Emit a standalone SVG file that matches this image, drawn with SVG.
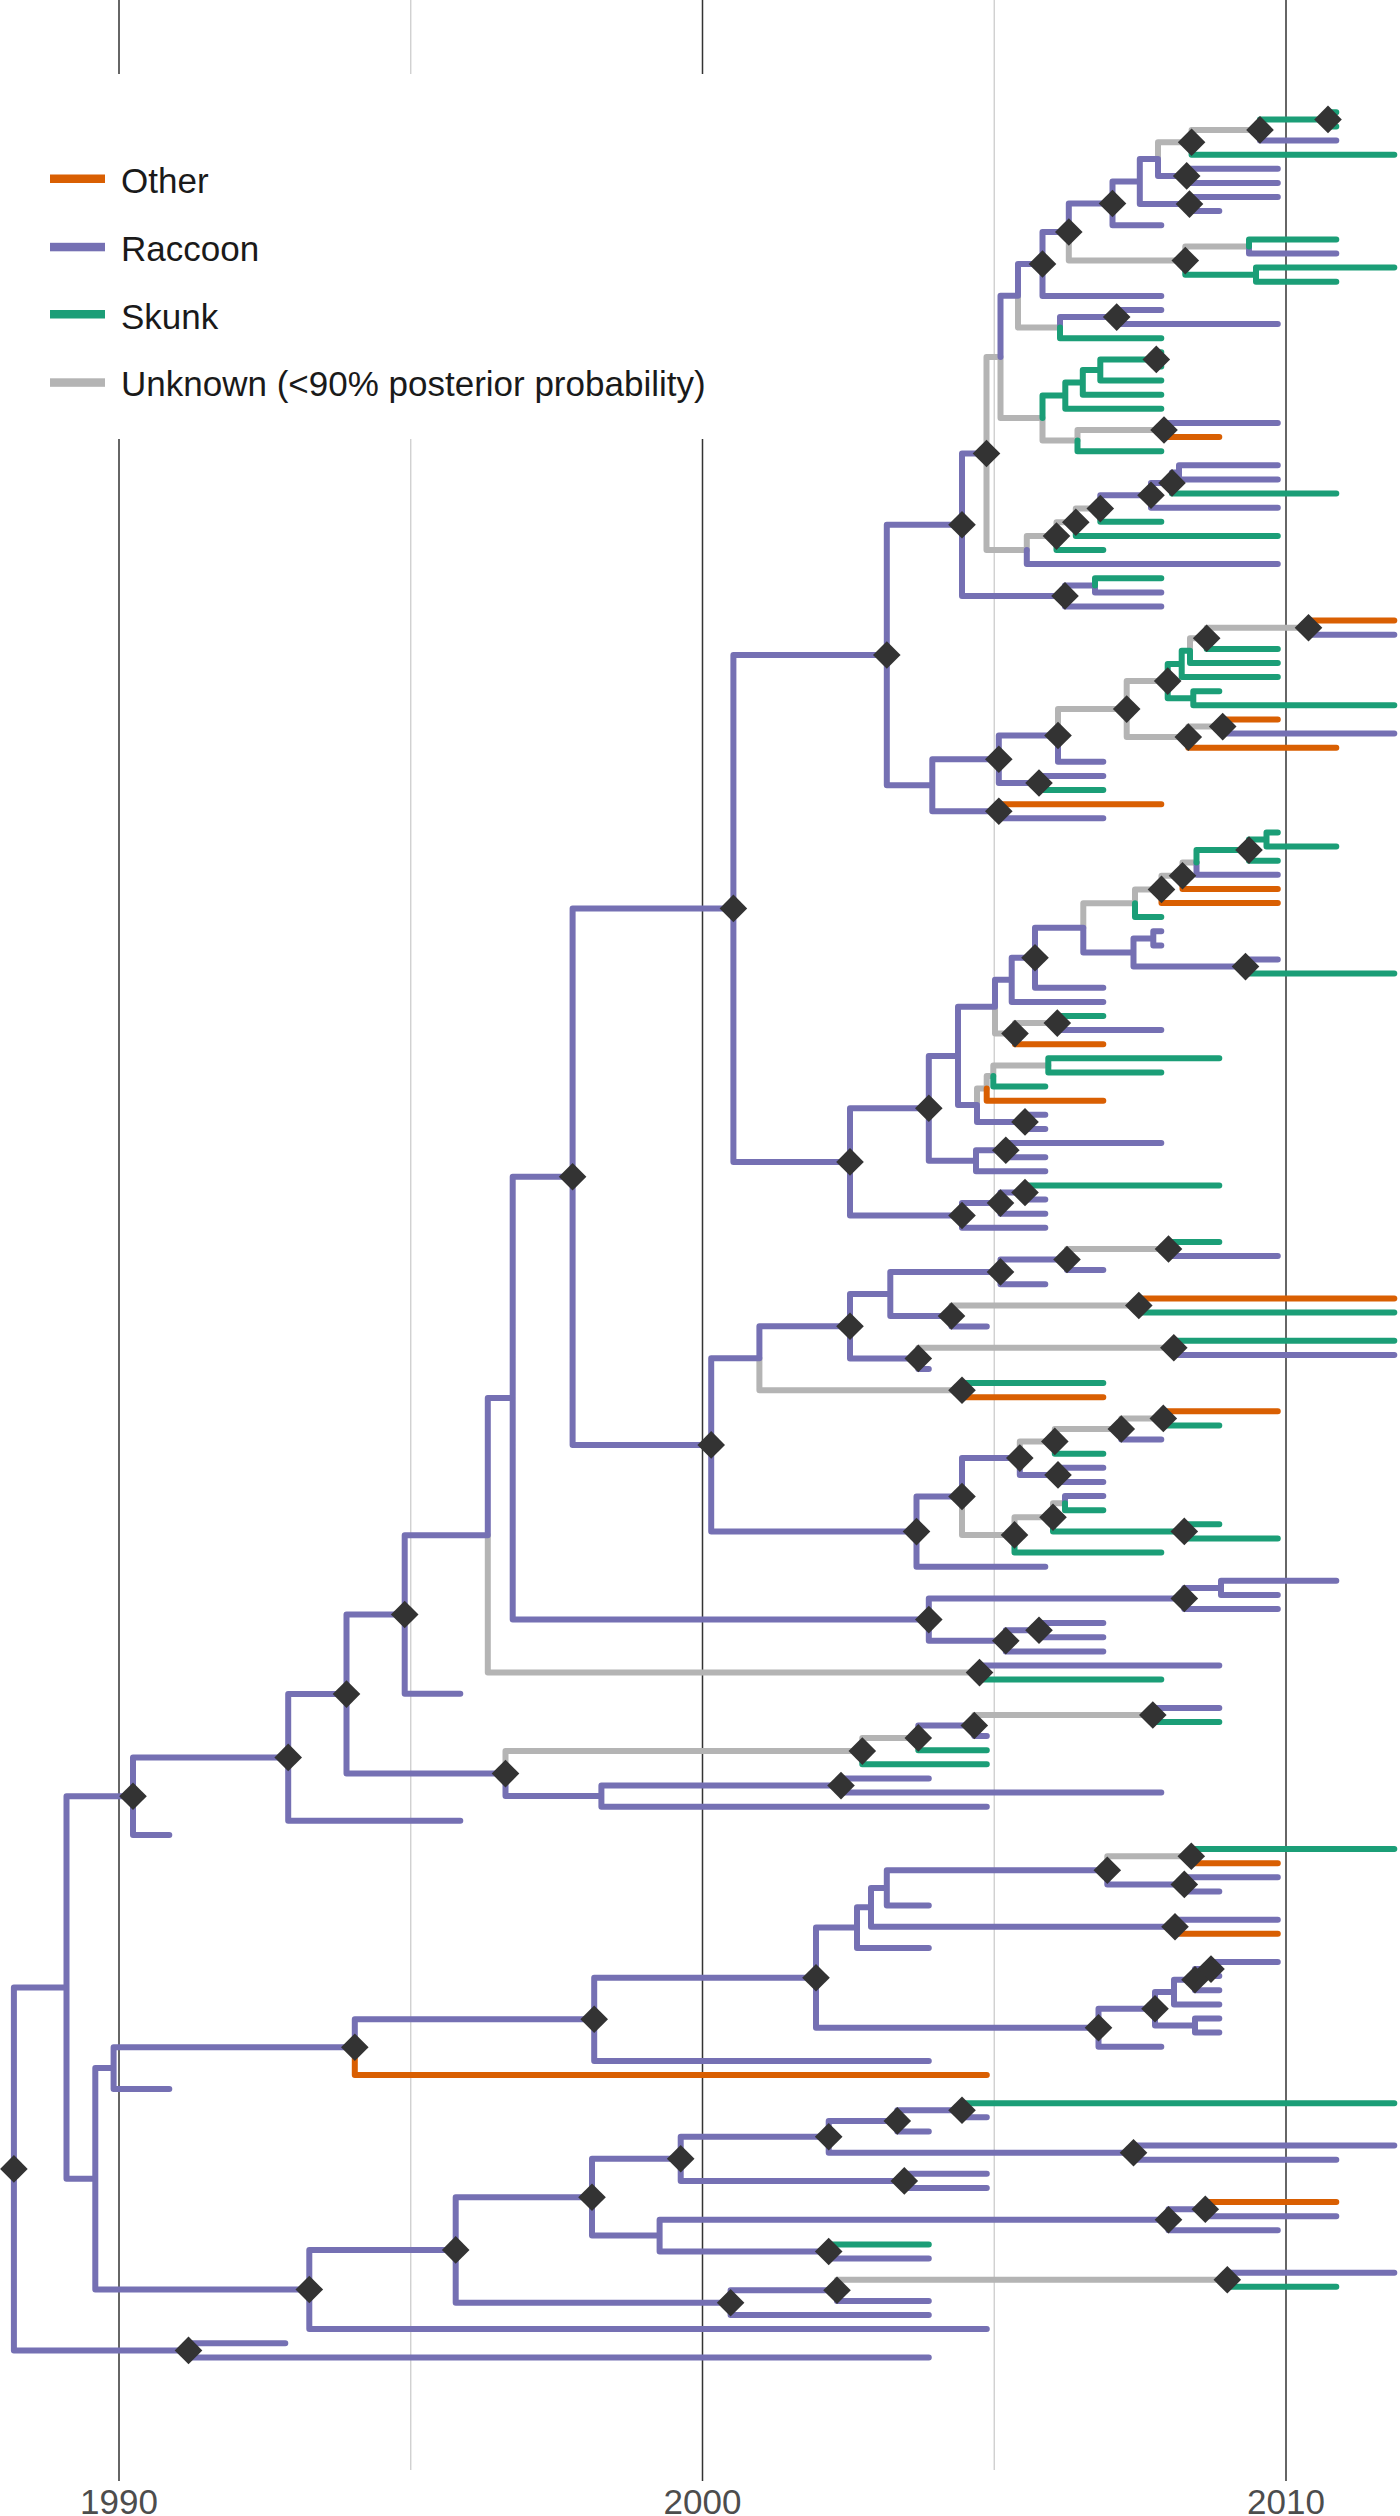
<svg xmlns="http://www.w3.org/2000/svg" width="1400" height="2516" viewBox="0 0 1400 2516">
<style>
.br{fill:none;stroke-width:6;stroke-linecap:round;stroke-linejoin:round}
.p{stroke:#7570b3}.g{stroke:#1b9e77}.o{stroke:#d95f02}.u{stroke:#b4b4b4}
.maj{stroke:#333;stroke-width:1.5}.min{stroke:#cccccc;stroke-width:1.3}
.lt{font-family:"Liberation Sans",Arial,sans-serif;font-size:35px;fill:#1a1a1a}
.ax{font-family:"Liberation Sans",Arial,sans-serif;font-size:35px;fill:#4d4d4d;text-anchor:middle}
</style>
<defs><path id="dm" d="M0,-13.8L13.8,0L0,13.8L-13.8,0Z" fill="#333"/></defs>
<rect width="1400" height="2516" fill="#fff"/>
<g id="grid">
<line class="maj" x1="119" y1="0" x2="119" y2="2481"/>
<line class="min" x1="410.75" y1="0" x2="410.75" y2="2470"/>
<line class="maj" x1="702.5" y1="0" x2="702.5" y2="2481"/>
<line class="min" x1="994.25" y1="0" x2="994.25" y2="2470"/>
<line class="maj" x1="1286" y1="0" x2="1286" y2="2481"/>
<text class="ax" x="119" y="2514">1990</text>
<text class="ax" x="702.5" y="2514">2000</text>
<text class="ax" x="1286" y="2514">2010</text>
</g>
<g id="legend">
<rect x="20" y="74" width="705" height="365" fill="#fff"/>
<rect x="50" y="174.5" width="55" height="8.5" fill="#d95f02"/>
<rect x="50" y="242.8" width="55" height="8.5" fill="#7570b3"/>
<rect x="50" y="310" width="55" height="8.5" fill="#1b9e77"/>
<rect x="50" y="378.3" width="55" height="8.5" fill="#b4b4b4"/>
<text class="lt" x="121" y="192.5">Other</text>
<text class="lt" x="121" y="261">Raccoon</text>
<text class="lt" x="121" y="328.5">Skunk</text>
<text class="lt" x="121" y="396">Unknown (&lt;90% posterior probability)</text>
</g>
<g id="connectors">
<path class="br u" d="M1191.6 142.3V129.9H1260M1158 159.1V142.3H1191.6M1185.3 260.6V246.5H1249M1068.8 232V260.6H1185.3M1018 295.8V327.6H1060M1077.5 440.6V430H1164M1042.5 418.1V440.6H1077.5M1000.5 357V418.1H1042.5M1075.8 522.2V508.6H1100.3M1056.5 536.1V522.2H1075.8M1026.8 550.1V536.1H1056.5M986.5 453.5V357H1000.5M986.5 453.5V550.1H1026.8M1206.7 638.3V627.7H1308.5M1190 650.7V638.3H1206.7M1126.7 709.1V681.1H1167.7M1188.3 737.1V726.6H1222.7M1126.7 709.1V737.1H1188.3M1058 735.5V709.1H1126.7M1182.5 875.7V862.5H1196.5M1161.5 889.4V875.7H1182.5M1135 903.2V889.4H1161.5M1083.3 927.8V903.2H1135M1015 1033.6V1023.1H1057.3M995 1006.7V1033.6H1015M993.3 1076V1065.4H1048.3M986.7 1088.4V1076H993.3M977 1105.1V1088.4H986.7M1067 1259.5V1249H1168.5M951.5 1316V1305.5H1138.8M918.3 1358.4V1347.8H1173.8M759.4 1358.2V1390.2H962M1121.3 1429V1418.4H1163.3M1054.8 1441.4V1429H1121.3M1019.8 1458.1V1441.4H1054.8M1053 1517.3V1503.2H1065M1014.5 1534.9V1517.3H1053M962 1496.5V1534.9H1014.5M487.8 1535.3V1672.6H979.5M974.3 1725.5V1715H1152.8M862.3 1751.1V1737.9H918.3M505.5 1773.6V1751.1H862.3M1107.3 1870.3V1856.2H1191.3M837 2290.3V2279.8H1227.3"/>
<path class="br p" d="M1260 129.9V140.5H1336.3M1158 159.1V175.9H1186.7M1186.7 175.9V168.8H1277.8M1186.7 175.9V182.9H1277.8M1139.8 181.6V159.1H1158M1139.8 181.6V204.1H1189.5M1189.5 204.1V197H1277.8M1189.5 204.1V211.1H1219.3M1112.5 203.5V181.6H1139.8M1112.5 203.5V225.3H1161.3M1249 246.5V253.5H1336.3M1068.8 232V203.5H1112.5M1042.5 264V232H1068.8M1042.5 264V295.9H1161.3M1116.7 317.1V310H1161.3M1116.7 317.1V324.1H1277.8M1060 327.6V317.1H1116.7M1018 295.8V264H1042.5M1164 430V422.9H1277.8M1179 472.4V465.3H1277.8M1179 472.4V479.4H1277.8M1172 482.9V472.4H1179M1151 495.3V482.9H1172M1151 495.3V507.7H1277.8M1100.3 508.6V495.3H1151M1026.8 550.1V564.1H1277.8M1000.5 357V295.8H1018M1095 585.4V592.4H1161.3M1065 595.9V585.4H1095M1065 595.9V606.5H1161.3M962 524.7V453.5H986.5M962 524.7V595.9H1065M1308.5 627.7V634.7H1394.3M1222.7 726.6V733.6H1394.3M1058 735.5V761.8H1103.3M1039 783V775.9H1103.3M998.8 759.2V735.5H1058M998.8 759.2V783H1039M998.8 811.3V818.3H1103.3M932.3 785.2V759.2H998.8M932.3 785.2V811.3H998.8M886.8 655V524.7H962M886.8 655V785.2H932.3M1196.5 862.5V874.8H1277.8M1153.3 938.4V931.3H1161.3M1153.3 938.4V945.4H1161.3M1245.5 966.6V959.5H1277.8M1133.5 952.5V938.4H1153.3M1133.5 952.5V966.6H1245.5M1083.3 927.8V952.5H1133.5M1035 957.8V927.8H1083.3M1035 957.8V987.7H1103.3M1011.7 979.8V957.8H1035M1011.7 979.8V1001.9H1103.3M1057.3 1023.1V1030.1H1161.3M995 1006.7V979.8H1011.7M1025 1121.9V1114.8H1045.3M1025 1121.9V1128.9H1045.3M977 1105.1V1121.9H1025M958 1055.9V1006.7H995M958 1055.9V1105.1H977M1005.8 1150.2V1143.1H1161.3M1005.8 1150.2V1157.2H1045.3M976 1160.7V1150.2H1005.8M976 1160.7V1171.3H1045.3M928.8 1108.3V1055.9H958M928.8 1108.3V1160.7H976M1025 1192.5V1199.5H1045.3M1000.5 1203.1V1192.5H1025M1000.5 1203.1V1213.7H1045.3M962 1215.5V1203.1H1000.5M962 1215.5V1227.8H1045.3M850 1161.9V1108.3H928.8M850 1161.9V1215.5H962M733.4 908.4V655H886.8M733.4 908.4V1161.9H850M1168.5 1249V1256H1277.8M1067 1259.5V1270.1H1103.3M1000.5 1271.9V1259.5H1067M1000.5 1271.9V1284.3H1045.3M951.5 1316V1326.6H986.8M890.3 1294V1271.9H1000.5M890.3 1294V1316H951.5M1173.8 1347.8V1354.9H1394.3M918.3 1358.4V1369H928.8M850 1326.2V1294H890.3M850 1326.2V1358.4H918.3M759.4 1358.2V1326.2H850M1121.3 1429V1439.6H1161.3M1058 1474.9V1467.8H1103.3M1058 1474.9V1481.9H1103.3M1019.8 1458.1V1474.9H1058M1065 1503.2V1496.1H1103.3M962 1496.5V1458.1H1019.8M916.5 1531.6V1496.5H962M916.5 1531.6V1566.7H1045.3M711.2 1444.9V1358.2H759.4M711.2 1444.9V1531.6H916.5M572.6 1176.7V908.4H733.4M572.6 1176.7V1444.9H711.2M1221 1587.9V1580.8H1336.3M1221 1587.9V1594.9H1277.8M1184.3 1598.4V1587.9H1221M1184.3 1598.4V1609H1277.8M1039 1630.2V1623.1H1103.3M1039 1630.2V1637.3H1103.3M1005.8 1640.8V1630.2H1039M1005.8 1640.8V1651.4H1103.3M928.8 1619.6V1598.4H1184.3M928.8 1619.6V1640.8H1005.8M512.7 1398.1V1176.7H572.6M512.7 1398.1V1619.6H928.8M979.5 1672.6V1665.5H1219.3M487.8 1535.3V1398.1H512.7M404.7 1614.5V1535.3H487.8M404.7 1614.5V1693.7H460.3M1152.8 1715V1707.9H1219.3M974.3 1725.5V1736.1H986.8M918.3 1737.9V1725.5H974.3M841 1785.6V1778.5H928.8M841 1785.6V1792.6H1161.3M601.4 1796.1V1785.6H841M601.4 1796.1V1806.7H986.8M505.5 1773.6V1796.1H601.4M346.5 1694.1V1614.5H404.7M346.5 1694.1V1773.6H505.5M288.2 1757.4V1694.1H346.5M288.2 1757.4V1820.8H460.3M133 1796.2V1757.4H288.2M133 1796.2V1834.9H169.3M1184.3 1884.4V1877.3H1277.8M1184.3 1884.4V1891.4H1219.3M1107.3 1870.3V1884.4H1184.3M886.8 1887.9V1870.3H1107.3M886.8 1887.9V1905.5H928.8M1175 1926.8V1919.7H1277.8M871 1907.3V1887.9H886.8M871 1907.3V1926.8H1175M857 1927.6V1907.3H871M857 1927.6V1947.9H928.8M1211 1969.1V1962H1277.8M1211 1969.1V1976.1H1219.3M1195 1979.7V1969.1H1211M1195 1979.7V1990.3H1219.3M1174 1992.1V1979.7H1195M1174 1992.1V2004.4H1219.3M1195 2025.6V2018.5H1219.3M1195 2025.6V2032.6H1219.3M1155 2008.8V1992.1H1174M1155 2008.8V2025.6H1195M1098.5 2027.8V2008.8H1155M1098.5 2027.8V2046.7H1161.3M816 1977.7V1927.6H857M816 1977.7V2027.8H1098.5M594.2 2019.3V1977.7H816M594.2 2019.3V2060.9H928.8M354.8 2047.2V2019.3H594.2M113.6 2068.1V2047.2H354.8M113.6 2068.1V2089.1H169.3M962 2110.3V2117.3H986.8M897.3 2120.9V2110.3H962M897.3 2120.9V2131.5H928.8M1133.5 2152.7V2145.6H1394.3M1133.5 2152.7V2159.7H1336.3M828.7 2136.8V2120.9H897.3M828.7 2136.8V2152.7H1133.5M904.3 2180.9V2173.8H986.8M904.3 2180.9V2187.9H986.8M680.7 2158.8V2136.8H828.7M680.7 2158.8V2180.9H904.3M1205.3 2209.2V2216.2H1336.3M1168.5 2219.7V2209.2H1205.3M1168.5 2219.7V2230.3H1277.8M828.7 2251.5V2258.5H928.8M659.6 2235.6V2219.7H1168.5M659.6 2235.6V2251.5H828.7M592 2197.2V2158.8H680.7M592 2197.2V2235.6H659.6M1227.3 2279.8V2272.7H1394.3M837 2290.3V2300.9H928.8M730.6 2302.7V2290.3H837M730.6 2302.7V2315H928.8M455.7 2249.9V2197.2H592M455.7 2249.9V2302.7H730.6M309.3 2289.5V2249.9H455.7M309.3 2289.5V2329.1H986.8M95.3 2178.8V2068.1H113.6M95.3 2178.8V2289.5H309.3M66.5 1987.5V1796.2H133M66.5 1987.5V2178.8H95.3M188.5 2350.4V2343.3H285.3M188.5 2350.4V2357.4H928.8M13.9 2168.9V1987.5H66.5M13.9 2168.9V2350.4H188.5"/>
<path class="br g" d="M1328 119.4V112.3H1336.3M1328 119.4V126.4H1336.3M1260 129.9V119.4H1328M1191.6 142.3V154.7H1394.3M1249 246.5V239.4H1336.3M1256 274.7V267.6H1394.3M1256 274.7V281.7H1336.3M1185.3 260.6V274.7H1256M1060 327.6V338.2H1161.3M1156.3 359.4V352.3H1161.3M1156.3 359.4V366.5H1161.3M1100.3 370V359.4H1156.3M1100.3 370V380.6H1161.3M1082.8 382.4V370H1100.3M1082.8 382.4V394.7H1161.3M1065.3 395.6V382.4H1082.8M1065.3 395.6V408.8H1161.3M1077.5 440.6V451.2H1161.3M1042.5 418.1V395.6H1065.3M1172 482.9V493.5H1336.3M1100.3 508.6V521.8H1161.3M1075.8 522.2V535.9H1277.8M1056.5 536.1V550H1103.3M1095 585.4V578.3H1161.3M1206.7 638.3V648.9H1277.8M1190 650.7V663H1277.8M1181.7 663.9V650.7H1190M1181.7 663.9V677.1H1277.8M1193.3 698.3V691.2H1219.3M1193.3 698.3V705.3H1394.3M1167.7 681.1V663.9H1181.7M1167.7 681.1V698.3H1193.3M1039 783V790.1H1103.3M1266.5 839.5V832.4H1277.8M1266.5 839.5V846.5H1336.3M1249 850.1V839.5H1266.5M1249 850.1V860.7H1277.8M1196.5 862.5V850.1H1249M1135 903.2V917.1H1161.3M1245.5 966.6V973.6H1394.3M1057.3 1023.1V1016H1103.3M1048.3 1065.4V1058.3H1219.3M1048.3 1065.4V1072.5H1161.3M993.3 1076V1086.6H1045.3M1025 1192.5V1185.4H1219.3M1168.5 1249V1241.9H1219.3M1138.8 1305.5V1312.5H1394.3M1173.8 1347.8V1340.7H1394.3M962 1390.2V1383.1H1103.3M1163.3 1418.4V1425.5H1219.3M1054.8 1441.4V1453.7H1103.3M1065 1503.2V1510.2H1103.3M1184.3 1531.4V1524.3H1219.3M1184.3 1531.4V1538.4H1277.8M1053 1517.3V1531.4H1184.3M1014.5 1534.9V1552.5H1161.3M979.5 1672.6V1679.6H1161.3M1152.8 1715V1722H1219.3M918.3 1737.9V1750.2H986.8M862.3 1751.1V1764.3H986.8M1191.3 1856.2V1849.1H1394.3M962 2110.3V2103.2H1394.3M828.7 2251.5V2244.4H928.8M1227.3 2279.8V2286.8H1336.3"/>
<path class="br o" d="M1164 430V437.1H1219.3M1308.5 627.7V620.6H1394.3M1222.7 726.6V719.5H1277.8M1188.3 737.1V747.7H1336.3M998.8 811.3V804.2H1161.3M1182.5 875.7V888.9H1277.8M1161.5 889.4V903H1277.8M1015 1033.6V1044.2H1103.3M986.7 1088.4V1100.7H1103.3M1138.8 1305.5V1298.4H1394.3M962 1390.2V1397.2H1103.3M1163.3 1418.4V1411.3H1277.8M1191.3 1856.2V1863.2H1277.8M1175 1926.8V1933.8H1277.8M354.8 2047.2V2075H986.8M1205.3 2209.2V2202.1H1336.3"/>
</g>
<g id="nodes">
<g id="n1"><use href="#dm" x="1328" y="119.4"/></g>
<g id="n2"><use href="#dm" x="1260" y="129.9"/></g>
<g id="n3"><use href="#dm" x="1191.6" y="142.3"/></g>
<g id="n4"><use href="#dm" x="1186.7" y="175.9"/></g>
<g id="n6"><use href="#dm" x="1189.5" y="204.1"/></g>
<g id="n8"><use href="#dm" x="1112.5" y="203.5"/></g>
<g id="n9"><use href="#dm" x="1068.8" y="232"/></g>
<g id="n10"><use href="#dm" x="1185.3" y="260.6"/></g>
<g id="n13"><use href="#dm" x="1042.5" y="264"/></g>
<g id="n16"><use href="#dm" x="1116.7" y="317.1"/></g>
<g id="n23"><use href="#dm" x="1156.3" y="359.4"/></g>
<g id="n24"><use href="#dm" x="1164" y="430"/></g>
<g id="n25"><use href="#dm" x="986.5" y="453.5"/></g>
<g id="nA"><use href="#dm" x="962" y="524.7"/></g>
<g id="n27"><use href="#dm" x="1056.5" y="536.1"/></g>
<g id="n28"><use href="#dm" x="1075.8" y="522.2"/></g>
<g id="n29"><use href="#dm" x="1100.3" y="508.6"/></g>
<g id="n30"><use href="#dm" x="1151" y="495.3"/></g>
<g id="n31"><use href="#dm" x="1172" y="482.9"/></g>
<g id="n33"><use href="#dm" x="1065" y="595.9"/></g>
<g id="n35"><use href="#dm" x="1308.5" y="627.7"/></g>
<g id="n36"><use href="#dm" x="1206.7" y="638.3"/></g>
<g id="n39"><use href="#dm" x="1167.7" y="681.1"/></g>
<g id="n41"><use href="#dm" x="1126.7" y="709.1"/></g>
<g id="n42"><use href="#dm" x="1188.3" y="737.1"/></g>
<g id="n43"><use href="#dm" x="1222.7" y="726.6"/></g>
<g id="n44"><use href="#dm" x="1058" y="735.5"/></g>
<g id="n45"><use href="#dm" x="998.8" y="759.2"/></g>
<g id="n46"><use href="#dm" x="1039" y="783"/></g>
<g id="n48"><use href="#dm" x="998.8" y="811.3"/></g>
<g id="nB"><use href="#dm" x="886.8" y="655"/></g>
<g id="n50"><use href="#dm" x="1249" y="850.1"/></g>
<g id="n52"><use href="#dm" x="1182.5" y="875.7"/></g>
<g id="n53"><use href="#dm" x="1161.5" y="889.4"/></g>
<g id="n58"><use href="#dm" x="1245.5" y="966.6"/></g>
<g id="n59"><use href="#dm" x="1035" y="957.8"/></g>
<g id="n62"><use href="#dm" x="1015" y="1033.6"/></g>
<g id="n63"><use href="#dm" x="1057.3" y="1023.1"/></g>
<g id="n70"><use href="#dm" x="1025" y="1121.9"/></g>
<g id="n71"><use href="#dm" x="1005.8" y="1150.2"/></g>
<g id="n73"><use href="#dm" x="928.8" y="1108.3"/></g>
<g id="n74"><use href="#dm" x="850" y="1161.9"/></g>
<g id="n75"><use href="#dm" x="962" y="1215.5"/></g>
<g id="n76"><use href="#dm" x="1000.5" y="1203.1"/></g>
<g id="n77"><use href="#dm" x="1025" y="1192.5"/></g>
<g id="n78"><use href="#dm" x="1168.5" y="1249"/></g>
<g id="n79"><use href="#dm" x="1067" y="1259.5"/></g>
<g id="n80"><use href="#dm" x="1000.5" y="1271.9"/></g>
<g id="n81"><use href="#dm" x="1138.8" y="1305.5"/></g>
<g id="n82"><use href="#dm" x="951.5" y="1316"/></g>
<g id="n84"><use href="#dm" x="1173.8" y="1347.8"/></g>
<g id="n85"><use href="#dm" x="918.3" y="1358.4"/></g>
<g id="n86"><use href="#dm" x="850" y="1326.2"/></g>
<g id="n87"><use href="#dm" x="962" y="1390.2"/></g>
<g id="n88"><use href="#dm" x="1163.3" y="1418.4"/></g>
<g id="n89"><use href="#dm" x="1121.3" y="1429"/></g>
<g id="n90"><use href="#dm" x="1054.8" y="1441.4"/></g>
<g id="n91"><use href="#dm" x="1058" y="1474.9"/></g>
<g id="n92"><use href="#dm" x="1019.8" y="1458.1"/></g>
<g id="n93"><use href="#dm" x="962" y="1496.5"/></g>
<g id="n94"><use href="#dm" x="1014.5" y="1534.9"/></g>
<g id="n95"><use href="#dm" x="1053" y="1517.3"/></g>
<g id="n97"><use href="#dm" x="1184.3" y="1531.4"/></g>
<g id="n98"><use href="#dm" x="916.5" y="1531.6"/></g>
<g id="n100"><use href="#dm" x="1184.3" y="1598.4"/></g>
<g id="n101"><use href="#dm" x="1039" y="1630.2"/></g>
<g id="n102"><use href="#dm" x="1005.8" y="1640.8"/></g>
<g id="n103"><use href="#dm" x="928.8" y="1619.6"/></g>
<g id="n104"><use href="#dm" x="979.5" y="1672.6"/></g>
<g id="n105"><use href="#dm" x="1152.8" y="1715"/></g>
<g id="n106"><use href="#dm" x="974.3" y="1725.5"/></g>
<g id="n107"><use href="#dm" x="918.3" y="1737.9"/></g>
<g id="n108"><use href="#dm" x="862.3" y="1751.1"/></g>
<g id="nM"><use href="#dm" x="841" y="1785.6"/></g>
<g id="n109"><use href="#dm" x="1191.3" y="1856.2"/></g>
<g id="n110"><use href="#dm" x="1184.3" y="1884.4"/></g>
<g id="n111"><use href="#dm" x="1107.3" y="1870.3"/></g>
<g id="n113"><use href="#dm" x="1175" y="1926.8"/></g>
<g id="n128"><use href="#dm" x="1211" y="1969.1"/></g>
<g id="n127"><use href="#dm" x="1195" y="1979.7"/></g>
<g id="n116"><use href="#dm" x="1155" y="2008.8"/></g>
<g id="n117"><use href="#dm" x="1098.5" y="2027.8"/></g>
<g id="n118"><use href="#dm" x="962" y="2110.3"/></g>
<g id="n119"><use href="#dm" x="897.3" y="2120.9"/></g>
<g id="n120"><use href="#dm" x="1133.5" y="2152.7"/></g>
<g id="n121"><use href="#dm" x="904.3" y="2180.9"/></g>
<g id="n122"><use href="#dm" x="1205.3" y="2209.2"/></g>
<g id="n123"><use href="#dm" x="1168.5" y="2219.7"/></g>
<g id="n124"><use href="#dm" x="1227.3" y="2279.8"/></g>
<g id="nC"><use href="#dm" x="733.4" y="908.4"/></g>
<g id="nD"><use href="#dm" x="572.6" y="1176.7"/></g>
<g id="nF"><use href="#dm" x="711.2" y="1444.9"/></g>
<g id="nI"><use href="#dm" x="404.7" y="1614.5"/></g>
<g id="nJ"><use href="#dm" x="346.5" y="1694.1"/></g>
<g id="nK"><use href="#dm" x="505.5" y="1773.6"/></g>
<g id="nN"><use href="#dm" x="288.2" y="1757.4"/></g>
<g id="nO"><use href="#dm" x="133" y="1796.2"/></g>
<g id="nS"><use href="#dm" x="354.8" y="2047.2"/></g>
<g id="nT"><use href="#dm" x="594.2" y="2019.3"/></g>
<g id="nU"><use href="#dm" x="816" y="1977.7"/></g>
<g id="nAB"><use href="#dm" x="828.7" y="2136.8"/></g>
<g id="nZ"><use href="#dm" x="680.7" y="2158.8"/></g>
<g id="nX"><use href="#dm" x="592" y="2197.2"/></g>
<g id="nAC"><use href="#dm" x="828.7" y="2251.5"/></g>
<g id="nW"><use href="#dm" x="455.7" y="2249.9"/></g>
<g id="nY"><use href="#dm" x="730.6" y="2302.7"/></g>
<g id="nAD"><use href="#dm" x="837" y="2290.3"/></g>
<g id="nV"><use href="#dm" x="309.3" y="2289.5"/></g>
<g id="nRoot"><use href="#dm" x="13.9" y="2168.9"/></g>
<g id="nAE"><use href="#dm" x="188.5" y="2350.4"/></g>
</g>
</svg>
